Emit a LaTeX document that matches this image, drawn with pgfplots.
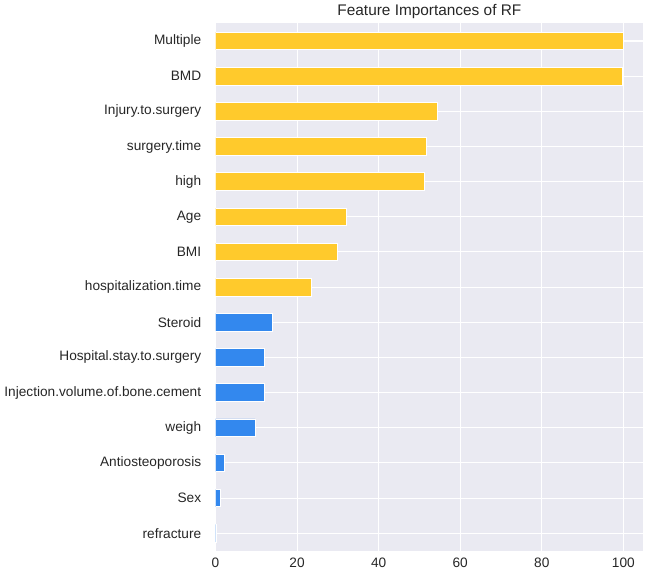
\documentclass[border=0pt]{standalone}
\usepackage{fontspec}
\setmainfont{Liberation Sans}
\usepackage{pgfplots}
\pgfplotsset{compat=1.18}
\definecolor{bgc}{HTML}{EAEAF2}
\definecolor{yel}{HTML}{FFCA2C}
\definecolor{blu}{HTML}{3388EE}
\definecolor{txt}{HTML}{262626}
\begin{document}
\begin{tikzpicture}[x=0.75pt,y=0.75pt]
\begin{axis}[
  scale only axis,
  width=322.5pt, height=397.5pt,
  xmin=0, xmax=104.9,
  ymin=-0.5, ymax=14.5,
  y dir=reverse,
  xbar, bar width=0.5, bar shift=0pt,
  ytick={0,...,14},
  yticklabels={Multiple,BMD,Injury.to.surgery,surgery.time,high,Age,BMI,hospitalization.time,Steroid,Hospital.stay.to.surgery,Injection.volume.of.bone.cement,weigh,Antiosteoporosis,Sex,refracture},
  xtick={0,20,40,60,80,100},
  axis background/.style={fill=bgc},
  grid=major,
  major grid style={white, line width=0.8pt},
  axis line style={draw=none},
  tick style={draw=none},
  ticklabel style={font=\fontsize{10.3}{12}\selectfont, text=txt},
  /pgf/number format/assume math mode=true,
  yticklabel style={xshift=-3pt},
  xticklabel style={yshift=-2pt},
  title={Feature Importances of RF},
  title style={font=\fontsize{11.6}{13}\selectfont, text=txt, yshift=-6pt},
]
\addplot[fill=yel, draw=white, line width=0.6pt] coordinates {
 (100,0) (99.7,1) (54.3,2) (51.6,3) (51.3,4) (32.0,5) (29.8,6) (23.5,7)
};
\addplot[fill=blu, draw=white, line width=0.6pt] coordinates {
 (13.9,8) (11.9,9) (11.9,10) (9.7,11) (2.2,12) (1.3,13) (0.2,14)
};
\end{axis}
\end{tikzpicture}
\end{document}
